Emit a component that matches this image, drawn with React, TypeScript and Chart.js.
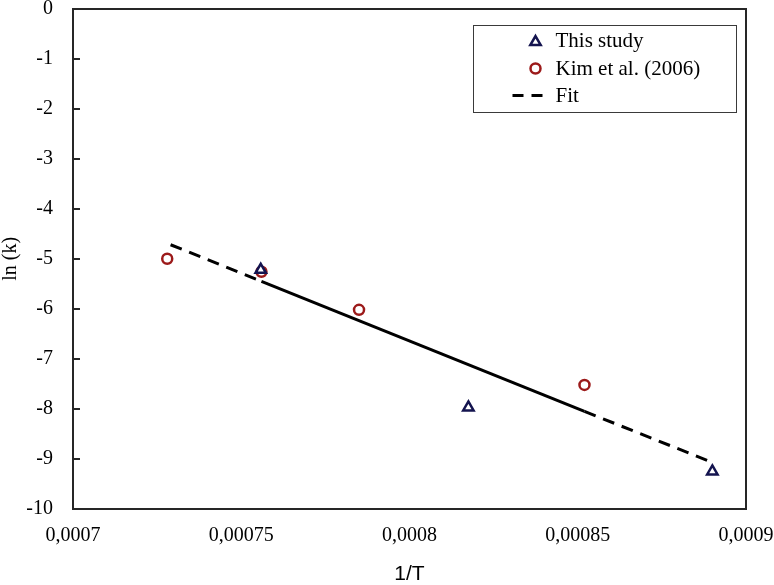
import React, { useEffect, useRef } from 'react';
import { Chart, registerables } from 'chart.js';

Chart.register(...registerables);

// ---- data ----
const studyX = [0.0007558, 0.0008175, 0.00089];
const studyY = [-5.22, -7.97, -9.25];
const kimX = [0.000728, 0.000756, 0.000785, 0.000852];
const kimY = [-5.0, -5.26, -6.02, -7.52];
const fitX = [0.000729, 0.000756, 0.000852, 0.00089];
const fitY = [-4.72, -5.45, -8.05, -9.07];
const xTickValues = [0.0007, 0.00075, 0.0008, 0.00085, 0.0009];
const xTickLabels = ['0,0007', '0,00075', '0,0008', '0,00085', '0,0009'];
const yTickValues = [0, -1, -2, -3, -4, -5, -6, -7, -8, -9, -10];
const yTickLabels = ['0', '-1', '-2', '-3', '-4', '-5', '-6', '-7', '-8', '-9', '-10'];
const seriesLabels = ['This study', 'Kim et al. (2006)', 'Fit'];
const xTitle = '1/T';
const yTitle = 'ln (k)';

const NAVY = '#14144f';
const RED = '#9c1a1a';
const SERIF = '"Liberation Serif", "Times New Roman", serif';
const SANS = '"Liberation Sans", Arial, sans-serif';

function drawTriangle(ctx: CanvasRenderingContext2D, x: number, y: number, r: number) {
  const s = Math.sin((2 * Math.PI) / 3) * r;
  ctx.beginPath();
  ctx.moveTo(x, y - r);
  ctx.lineTo(x + s, y + r / 2);
  ctx.lineTo(x - s, y + r / 2);
  ctx.closePath();
}

function plotBox(chart: any) {
  const xs = chart.scales.x;
  const ys = chart.scales.y;
  return {
    left: Math.round(xs.getPixelForValue(xs.min)),
    right: Math.round(xs.getPixelForValue(xs.max)),
    top: Math.round(ys.getPixelForValue(ys.max)),
    bottom: Math.round(ys.getPixelForValue(ys.min)),
  };
}

const framePlugin = {
  id: 'frame',
  afterDraw(chart: any) {
    const { ctx } = chart;
    const { left, right, top, bottom } = plotBox(chart);
    ctx.save();
    ctx.setLineDash([]);
    ctx.fillStyle = '#262626';
    ctx.fillRect(left - 1, top - 1, right - left + 2, 2);
    ctx.fillRect(left - 1, bottom - 1, right - left + 2, 2);
    ctx.fillRect(left - 1, top - 1, 2, bottom - top + 2);
    ctx.fillRect(right - 1, top - 1, 2, bottom - top + 2);
    // inner y tick marks
    const ys = chart.scales.y;
    yTickValues.forEach((v) => {
      const py = Math.round(ys.getPixelForValue(v));
      ctx.fillRect(left, py - 1, 7, 2);
    });

    // legend
    const bx = right - 272.5;
    const by = top + 16.5;
    const bw = 263;
    const bh = 87;
    ctx.fillStyle = '#fff';
    ctx.fillRect(bx, by, bw, bh);
    ctx.strokeStyle = '#3a3a3a';
    ctx.lineWidth = 1;
    ctx.strokeRect(bx, by, bw, bh);
    const mx = bx + 62;
    const tx = bx + 82;
    const rows = [by + 15, by + 43, by + 70];
    ctx.font = '21px ' + SERIF;
    ctx.textBaseline = 'middle';
    ctx.textAlign = 'left';
    ctx.strokeStyle = NAVY;
    ctx.lineWidth = 2.5;
    ctx.fillStyle = '#fff';
    drawTriangle(ctx, mx, rows[0] + 1.5, 6);
    ctx.fill();
    ctx.stroke();
    ctx.strokeStyle = RED;
    ctx.beginPath();
    ctx.arc(mx, rows[1], 5, 0, Math.PI * 2);
    ctx.fill();
    ctx.stroke();
    ctx.strokeStyle = '#000';
    ctx.lineWidth = 3;
    ctx.setLineDash([11, 8]);
    ctx.beginPath();
    ctx.moveTo(mx - 23, rows[2]);
    ctx.lineTo(mx + 8, rows[2]);
    ctx.stroke();
    ctx.setLineDash([]);
    ctx.fillStyle = '#000';
    seriesLabels.forEach((lab, i) => ctx.fillText(lab, tx, rows[i] + 1));
    ctx.restore();
  },
};

export default function App() {
  const ref = useRef<HTMLCanvasElement | null>(null);
  useEffect(() => {
    if (!ref.current) return;
    const chart = new Chart(ref.current, {
      type: 'scatter',
      data: {
        datasets: [
          {
            label: seriesLabels[0],
            data: studyX.map((x, i) => ({ x, y: studyY[i] })),
            pointStyle: 'triangle',
            pointRadius: 6,
            pointBorderWidth: 2.5,
            pointBorderColor: NAVY,
            pointBackgroundColor: 'rgba(255,255,255,1)',
            borderColor: NAVY,
            backgroundColor: '#fff',
          },
          {
            label: seriesLabels[1],
            data: kimX.map((x, i) => ({ x, y: kimY[i] })),
            pointStyle: 'circle',
            pointRadius: 5,
            pointBorderWidth: 2.5,
            pointBorderColor: RED,
            pointBackgroundColor: 'rgba(255,255,255,0)',
            borderColor: RED,
            backgroundColor: '#fff',
          },
          {
            label: seriesLabels[2],
            data: fitX.map((x, i) => ({ x, y: fitY[i] })),
            showLine: true,
            pointRadius: 0,
            borderColor: '#000',
            borderWidth: 3,
            borderDash: [12, 8],
            segment: {
              borderDash: (c: any) => (c.p0DataIndex === 1 ? [] : [12, 8]),
            },
          } as any,
        ],
      },
      options: {
        responsive: false,
        animation: false,
        events: [],
        layout: { padding: { left: 0, top: 8, right: 28, bottom: 0 } },
        plugins: { legend: { display: false }, tooltip: { enabled: false } },
        scales: {
          x: {
            type: 'linear',
            min: 0.0007,
            max: 0.0009,
            grid: { display: false, drawTicks: false, tickLength: 0 },
            border: { display: false },
            afterBuildTicks: (s: any) => {
              s.ticks = xTickValues.map((v) => ({ value: v }));
            },
            afterFit: (s: any) => {
              s.height = 76;
              s.paddingLeft = 0;
              s.paddingRight = 0;
            },
            ticks: {
              padding: 15,
              maxRotation: 0,
              autoSkip: false,
              color: '#000',
              font: { family: SERIF, size: 20 },
              callback: (_v: any, i: number) => xTickLabels[i],
            },
            title: {
              display: true,
              text: xTitle,
              color: '#000',
              font: { family: SANS, size: 21, lineHeight: 1 },
              padding: 0,
            },
          },
          y: {
            type: 'linear',
            min: -10,
            max: 0,
            grid: { display: false, drawTicks: false, tickLength: 0 },
            border: { display: false },
            afterBuildTicks: (s: any) => {
              s.ticks = yTickValues.map((v) => ({ value: v }));
            },
            afterFit: (s: any) => {
              s.width = 73;
              s.paddingTop = 0;
              s.paddingBottom = 0;
            },
            ticks: {
              padding: 20,
              autoSkip: false,
              color: '#000',
              font: { family: SERIF, size: 20 },
              callback: (_v: any, i: number) => yTickLabels[i],
            },
            title: {
              display: true,
              text: yTitle,
              color: '#000',
              font: { family: SERIF, size: 20, lineHeight: 1.1 },
              padding: 0,
            },
          },
        },
      },
      plugins: [framePlugin],
    });
    return () => chart.destroy();
  }, []);
  return (
    <div style={{ position: 'absolute', left: 0, top: 0, width: 774, height: 585, background: '#fff' }}>
      <canvas ref={ref} width={774} height={585} style={{ display: 'block' }} />
    </div>
  );
}
